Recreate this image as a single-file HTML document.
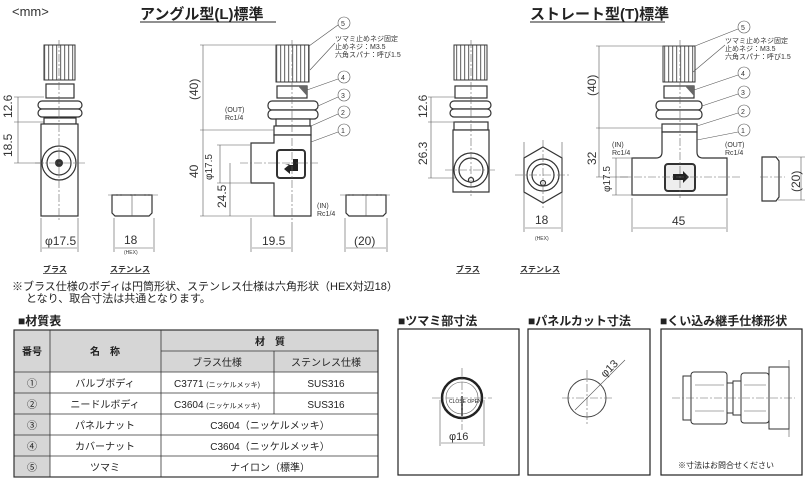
<!DOCTYPE html>
<html><head><meta charset="utf-8"><style>
body{margin:0;background:#fff;}
svg{display:block;font-family:"Liberation Sans","Noto Sans CJK JP",sans-serif;}
.t{font-size:11px;fill:#222}
.s{font-size:7px;fill:#333}
.d{font-size:12px;fill:#333}
.ln{stroke:#444;stroke-width:1;fill:none}
.th{stroke:#555;stroke-width:0.6;fill:none}
.c{stroke:#666;stroke-width:0.6;fill:none;stroke-dasharray:8 2 2 2}
.b{stroke:#333;stroke-width:1.2;fill:#fff}
.k{stroke:#333;stroke-width:1;fill:url(#st)}
</style></head><body>
<svg width="810" height="479" viewBox="0 0 810 479" xmlns="http://www.w3.org/2000/svg">
<defs>
<pattern id="st" width="4" height="10" patternUnits="userSpaceOnUse"><rect width="4" height="10" fill="#fff"/><rect width="1.2" height="10" fill="#777"/></pattern>
</defs>
<text x="12" y="16" class="d" style="font-size:13px">&lt;mm&gt;</text>
<text x="140" y="19" style="font-size:15px;font-weight:bold" fill="#222">アングル型(L)標準</text>
<line x1="140" y1="22" x2="276" y2="22" stroke="#222"/>
<text x="530" y="19" style="font-size:15px;font-weight:bold" fill="#222">ストレート型(T)標準</text>
<line x1="530" y1="22" x2="665" y2="22" stroke="#222"/>

<!-- Angle front (brass) -->
<g>
<rect x="44" y="45" width="31" height="35" class="k"/>
<rect x="46" y="84" width="28" height="14" class="b"/>
<rect x="38" y="101" width="44" height="8" rx="4" class="b"/><rect x="38" y="109" width="44" height="8" rx="4" class="b"/>
<rect x="44" y="118" width="32" height="6" class="b"/>
<rect x="41" y="124" width="37" height="92" class="b"/>
<circle cx="59" cy="163" r="17" class="b"/><circle cx="59" cy="163" r="12" class="b"/><circle cx="59" cy="163" r="4" fill="#333"/>
<line x1="59" y1="40" x2="59" y2="220" class="c"/><line x1="35" y1="163" x2="85" y2="163" class="c"/>
<line x1="14" y1="97" x2="44" y2="97" class="th"/><line x1="14" y1="122" x2="44" y2="122" class="th"/><line x1="14" y1="163" x2="44" y2="163" class="th"/>
<line x1="18" y1="97" x2="18" y2="163" class="th"/>
<text transform="translate(12,118) rotate(-90)" class="d">12.6</text>
<text transform="translate(12,157) rotate(-90)" class="d">18.5</text>
<line x1="41" y1="218" x2="41" y2="252" class="th"/><line x1="78" y1="218" x2="78" y2="252" class="th"/><line x1="42" y1="248" x2="77" y2="248" class="th"/>
<text x="45" y="245" class="d">φ17.5</text>
<text x="43" y="272" class="s" style="font-size:8px;text-decoration:underline;font-weight:bold">ブラス</text>
</g>
<!-- Angle stainless view -->
<g>
<path d="M112 195 h40 v18 l-3 3 h-34 l-3 -3z" class="b"/><line x1="132" y1="195" x2="132" y2="216" class="th"/>
<line x1="108" y1="195" x2="158" y2="195" class="c"/>
<line x1="114" y1="218" x2="114" y2="252" class="th"/><line x1="154" y1="218" x2="154" y2="252" class="th"/><line x1="115" y1="248" x2="153" y2="248" class="th"/>
<text x="124" y="244" class="d">18</text><text x="124" y="254" class="s" style="font-size:5px">(HEX)</text>
<text x="110" y="272" class="s" style="font-size:8px;text-decoration:underline;font-weight:bold">ステンレス</text>
</g>
<!-- Angle side view -->
<g>
<rect x="276" y="45" width="33" height="37" class="k"/>
<rect x="277" y="86" width="30" height="12" class="b"/><path d="M298 86 h9 v10z" fill="#666"/>
<rect x="268" y="101" width="50" height="9" rx="4" class="b"/><rect x="268" y="110" width="50" height="9" rx="4" class="b"/>
<rect x="276" y="119" width="34" height="7" class="b"/>
<rect x="274" y="126" width="37" height="9" class="b"/>
<path d="M274 135 h37 v81 h-37 v-33 h-23 v-40 h23z" class="b"/>
<rect x="277" y="150" width="28" height="28" rx="3" class="b" style="stroke-width:2"/>
<path d="M285 165 h8 v-6 h5 v12 h-8 v3 l-6 -5 l6 -5z" fill="#222"/>
<line x1="292" y1="40" x2="292" y2="220" class="c"/><line x1="240" y1="163" x2="320" y2="163" class="c"/>
<line x1="200" y1="45" x2="290" y2="45" class="th"/><line x1="200" y1="130" x2="274" y2="130" class="th"/><line x1="200" y1="216" x2="274" y2="216" class="th"/>
<line x1="203" y1="45" x2="203" y2="216" class="th"/>
<text transform="translate(198,100) rotate(-90)" class="d">(40)</text>
<text transform="translate(198,178) rotate(-90)" class="d">40</text>
<line x1="217" y1="145" x2="250" y2="145" class="th"/><line x1="217" y1="183" x2="250" y2="183" class="th"/><line x1="220" y1="145" x2="220" y2="183" class="th"/>
<text transform="translate(212,180) rotate(-90)" class="d" style="font-size:10px">φ17.5</text>
<line x1="230" y1="163" x2="230" y2="216" class="th"/>
<text transform="translate(226,208) rotate(-90)" class="d">24.5</text>
<line x1="251" y1="218" x2="251" y2="252" class="th"/><line x1="292" y1="222" x2="292" y2="252" class="th"/><line x1="252" y1="248" x2="291" y2="248" class="th"/>
<text x="262" y="245" class="d">19.5</text>
<path d="M346 195 h40 v18 l-3 3 h-34 l-3 -3z" class="b"/><line x1="366" y1="195" x2="366" y2="216" class="th"/><line x1="340" y1="195" x2="392" y2="195" class="c"/>
<line x1="345" y1="218" x2="345" y2="252" class="th"/><line x1="387" y1="218" x2="387" y2="252" class="th"/><line x1="346" y1="248" x2="386" y2="248" class="th"/>
<text x="354" y="245" class="d">(20)</text>
<text x="225" y="112" class="s">(OUT)</text><text x="225" y="120" class="s">Rc1/4</text>
<text x="317" y="208" class="s">(IN)</text><text x="317" y="216" class="s">Rc1/4</text>
<circle cx="344" cy="23" r="6" class="th"/><text x="341" y="26" class="s">5</text>
<circle cx="344" cy="77" r="6" class="th"/><text x="341" y="80" class="s">4</text>
<circle cx="344" cy="95" r="6" class="th"/><text x="341" y="98" class="s">3</text>
<circle cx="344" cy="112" r="6" class="th"/><text x="341" y="115" class="s">2</text>
<circle cx="344" cy="130" r="6" class="th"/><text x="341" y="133" class="s">1</text>
<line x1="338" y1="25" x2="309" y2="46" class="th"/><line x1="338" y1="79" x2="307" y2="90" class="th"/><line x1="338" y1="97" x2="318" y2="106" class="th"/><line x1="338" y1="114" x2="311" y2="126" class="th"/><line x1="338" y1="132" x2="311" y2="142" class="th"/>
<text x="335" y="41" class="s">ツマミ止めネジ固定</text><text x="335" y="49" class="s">止めネジ：M3.5</text><text x="335" y="57" class="s">六角スパナ：呼び1.5</text>
<line x1="335" y1="43" x2="310" y2="70" class="th"/>
</g>

<!-- Straight front -->
<g>
<rect x="454" y="45" width="33" height="35" class="k"/>
<rect x="455" y="86" width="32" height="12" class="b"/>
<rect x="450" y="101" width="41" height="8" rx="4" class="b"/><rect x="450" y="109" width="41" height="8" rx="4" class="b"/>
<rect x="454" y="122" width="34" height="8" class="b"/>
<rect x="453" y="130" width="36" height="62" class="b"/>
<circle cx="471" cy="170" r="17" class="b"/><circle cx="471" cy="170" r="12" class="b"/><circle cx="471" cy="180" r="2.5" class="b"/>
<line x1="471" y1="40" x2="471" y2="196" class="c"/><line x1="445" y1="170" x2="497" y2="170" class="c"/>
<line x1="428" y1="97" x2="455" y2="97" class="th"/><line x1="428" y1="122" x2="455" y2="122" class="th"/><line x1="428" y1="178" x2="455" y2="178" class="th"/>
<line x1="431" y1="97" x2="431" y2="178" class="th"/>
<text transform="translate(427,118) rotate(-90)" class="d">12.6</text>
<text transform="translate(427,165) rotate(-90)" class="d">26.3</text>
<text x="456" y="272" class="s" style="font-size:8px;text-decoration:underline;font-weight:bold">ブラス</text>
<polygon points="543,147 562,158 562,192 543,203 524,192 524,158" class="b"/>
<circle cx="543" cy="175" r="16" class="b"/><circle cx="543" cy="175" r="11" class="b"/><circle cx="543" cy="183" r="2.5" class="b"/>
<line x1="543" y1="140" x2="543" y2="208" class="c"/><line x1="515" y1="175" x2="570" y2="175" class="c"/>
<line x1="524" y1="142" x2="524" y2="232" class="th"/><line x1="562" y1="142" x2="562" y2="232" class="th"/><line x1="525" y1="228" x2="561" y2="228" class="th"/>
<text x="535" y="224" class="d">18</text><text x="535" y="240" class="s" style="font-size:5px">(HEX)</text>
<text x="520" y="272" class="s" style="font-size:8px;text-decoration:underline;font-weight:bold">ステンレス</text>
</g>
<!-- Straight side -->
<g>
<rect x="663" y="46" width="32" height="36" class="k"/>
<rect x="664" y="86" width="30" height="12" class="b"/><path d="M685 86 h9 v10z" fill="#666"/>
<rect x="656" y="101" width="46" height="9" rx="4" class="b"/><rect x="656" y="110" width="46" height="9" rx="4" class="b"/>
<rect x="662" y="124" width="35" height="8" class="b"/>
<path d="M662 132 h35 v20 q0 6 6 6 h24 v37 h-95 v-37 h24 q6 0 6 -6z" class="b"/>
<rect x="665" y="164" width="30" height="27" rx="3" class="b" style="stroke-width:2;fill:#eee"/>
<path d="M673 174 h10 v-3 l6 6 l-6 6 v-3 h-10z" fill="#222"/>
<line x1="680" y1="40" x2="680" y2="198" class="c"/><line x1="620" y1="177" x2="740" y2="177" class="c"/>
<line x1="596" y1="46" x2="680" y2="46" class="th"/><line x1="596" y1="128" x2="662" y2="128" class="th"/><line x1="596" y1="177" x2="630" y2="177" class="th"/>
<line x1="599" y1="46" x2="599" y2="177" class="th"/>
<text transform="translate(596,96) rotate(-90)" class="d">(40)</text>
<text transform="translate(596,165) rotate(-90)" class="d">32</text>
<line x1="612" y1="158" x2="633" y2="158" class="th"/><line x1="612" y1="195" x2="633" y2="195" class="th"/><line x1="616" y1="158" x2="616" y2="195" class="th"/>
<text transform="translate(610,192) rotate(-90)" class="d" style="font-size:10px">φ17.5</text>
<line x1="632" y1="198" x2="632" y2="232" class="th"/><line x1="727" y1="198" x2="727" y2="232" class="th"/><line x1="633" y1="228" x2="726" y2="228" class="th"/>
<text x="672" y="225" class="d">45</text>
<path d="M762 157 h14 l3 4 v36 l-3 4 h-14z" class="b"/><line x1="760" y1="177" x2="785" y2="177" class="c"/>
<line x1="778" y1="157" x2="805" y2="157" class="th"/><line x1="778" y1="200" x2="805" y2="200" class="th"/><line x1="801" y1="157" x2="801" y2="200" class="th"/>
<text transform="translate(800,192) rotate(-90)" class="d">(20)</text>
<text x="612" y="147" class="s">(IN)</text><text x="612" y="155" class="s">Rc1/4</text>
<text x="725" y="147" class="s">(OUT)</text><text x="725" y="155" class="s">Rc1/4</text>
<circle cx="744" cy="27" r="6" class="th"/><text x="741" y="30" class="s">5</text>
<circle cx="744" cy="73" r="6" class="th"/><text x="741" y="76" class="s">4</text>
<circle cx="744" cy="92" r="6" class="th"/><text x="741" y="95" class="s">3</text>
<circle cx="744" cy="111" r="6" class="th"/><text x="741" y="114" class="s">2</text>
<circle cx="744" cy="130" r="6" class="th"/><text x="741" y="133" class="s">1</text>
<line x1="738" y1="29" x2="695" y2="46" class="th"/><line x1="738" y1="75" x2="694" y2="90" class="th"/><line x1="738" y1="94" x2="702" y2="106" class="th"/><line x1="738" y1="113" x2="697" y2="126" class="th"/><line x1="738" y1="132" x2="697" y2="140" class="th"/>
<text x="725" y="43" class="s">ツマミ止めネジ固定</text><text x="725" y="51" class="s">止めネジ：M3.5</text><text x="725" y="59" class="s">六角スパナ：呼び1.5</text>
<line x1="725" y1="45" x2="693" y2="72" class="th"/>
</g>

<text x="12" y="290" class="t">※ブラス仕様のボディは円筒形状、ステンレス仕様は六角形状（HEX対辺18）</text>
<text x="26" y="302" class="t">となり、取合寸法は共通となります。</text>

<text x="18" y="325" style="font-size:12px;font-weight:bold" fill="#222">■材質表</text>
<g font-size="10" fill="#222">
<rect x="14" y="330" width="364" height="42" fill="#d6d6d6"/>
<rect x="14" y="372" width="36" height="105" fill="#d6d6d6"/>
<rect x="14" y="330" width="364" height="147" fill="none" stroke="#333" stroke-width="1.2"/>
<g stroke="#333" stroke-width="0.8">
<line x1="50" y1="330" x2="50" y2="477"/><line x1="161" y1="330" x2="161" y2="477"/>
<line x1="274" y1="351" x2="274" y2="414"/>
<line x1="161" y1="351" x2="378" y2="351"/>
<line x1="14" y1="372" x2="378" y2="372"/><line x1="14" y1="393" x2="378" y2="393"/><line x1="14" y1="414" x2="378" y2="414"/><line x1="14" y1="435" x2="378" y2="435"/><line x1="14" y1="456" x2="378" y2="456"/>
</g>
<text x="32" y="355" text-anchor="middle" font-weight="bold">番号</text>
<text x="105" y="355" text-anchor="middle" font-weight="bold">名　称</text>
<text x="270" y="345" text-anchor="middle" font-weight="bold">材　質</text>
<text x="217" y="366" text-anchor="middle">ブラス仕様</text>
<text x="326" y="366" text-anchor="middle">ステンレス仕様</text>
<text x="32" y="387" text-anchor="middle">①</text><text x="105" y="387" text-anchor="middle">バルブボディ</text><text x="217" y="387" text-anchor="middle">C3771 <tspan font-size="7">(ニッケルメッキ)</tspan></text><text x="326" y="387" text-anchor="middle">SUS316</text>
<text x="32" y="408" text-anchor="middle">②</text><text x="105" y="408" text-anchor="middle">ニードルボディ</text><text x="217" y="408" text-anchor="middle">C3604 <tspan font-size="7">(ニッケルメッキ)</tspan></text><text x="326" y="408" text-anchor="middle">SUS316</text>
<text x="32" y="429" text-anchor="middle">③</text><text x="105" y="429" text-anchor="middle">パネルナット</text><text x="270" y="429" text-anchor="middle">C3604（ニッケルメッキ）</text>
<text x="32" y="450" text-anchor="middle">④</text><text x="105" y="450" text-anchor="middle">カバーナット</text><text x="270" y="450" text-anchor="middle">C3604（ニッケルメッキ）</text>
<text x="32" y="471" text-anchor="middle">⑤</text><text x="105" y="471" text-anchor="middle">ツマミ</text><text x="270" y="471" text-anchor="middle">ナイロン（標準）</text>
</g>

<text x="398" y="325" style="font-size:12px;font-weight:bold" fill="#222">■ツマミ部寸法</text>
<text x="528" y="325" style="font-size:12px;font-weight:bold" fill="#222">■パネルカット寸法</text>
<text x="660" y="325" style="font-size:12px;font-weight:bold" fill="#222">■くい込み継手仕様形状</text>
<rect x="398" y="329" width="121" height="146" fill="none" stroke="#222" stroke-width="1.2"/>
<rect x="528" y="329" width="122" height="146" fill="none" stroke="#222" stroke-width="1.2"/>
<rect x="661" y="329" width="141" height="146" fill="none" stroke="#222" stroke-width="1.2"/>
<circle cx="462" cy="398" r="20" fill="#fff" stroke="#222" stroke-width="2.5"/><circle cx="462" cy="398" r="16" class="th"/>
<line x1="462" y1="396" x2="462" y2="416" stroke="#222" stroke-width="1.5"/>
<text x="449" y="403" style="font-size:5px" fill="#222">CLOSE OPEN</text>
<line x1="462" y1="368" x2="462" y2="430" class="c"/><line x1="432" y1="398" x2="492" y2="398" class="c"/>
<line x1="440" y1="400" x2="440" y2="446" class="th"/><line x1="484" y1="400" x2="484" y2="446" class="th"/><line x1="441" y1="443" x2="483" y2="443" class="th"/>
<text x="449" y="440" class="d" style="font-size:11px">φ16</text>
<circle cx="587" cy="398" r="19" class="ln"/>
<line x1="587" y1="370" x2="587" y2="426" class="c"/><line x1="562" y1="398" x2="614" y2="398" class="c"/>
<line x1="575" y1="410" x2="625" y2="360" class="th"/>
<text transform="translate(605,378) rotate(-45)" class="d" style="font-size:11px">φ13</text>
<g class="b" style="stroke-width:1">
<rect x="683" y="376" width="8" height="44"/><rect x="691" y="372" width="36" height="52" rx="3"/>
<rect x="727" y="383" width="6" height="30"/><rect x="733" y="381" width="8" height="34"/>
<rect x="741" y="373" width="28" height="50" rx="3"/><rect x="769" y="367" width="20" height="62"/>
</g>
<line x1="695" y1="385" x2="724" y2="385" class="th"/><line x1="695" y1="411" x2="724" y2="411" class="th"/>
<line x1="744" y1="385" x2="766" y2="385" class="th"/><line x1="744" y1="411" x2="766" y2="411" class="th"/>
<line x1="789" y1="360" x2="789" y2="437" class="th"/>
<line x1="672" y1="398" x2="795" y2="398" class="c"/>
<text x="678" y="468" style="font-size:8px" fill="#222">※寸法はお問合せください</text>
</svg>
</body></html>
